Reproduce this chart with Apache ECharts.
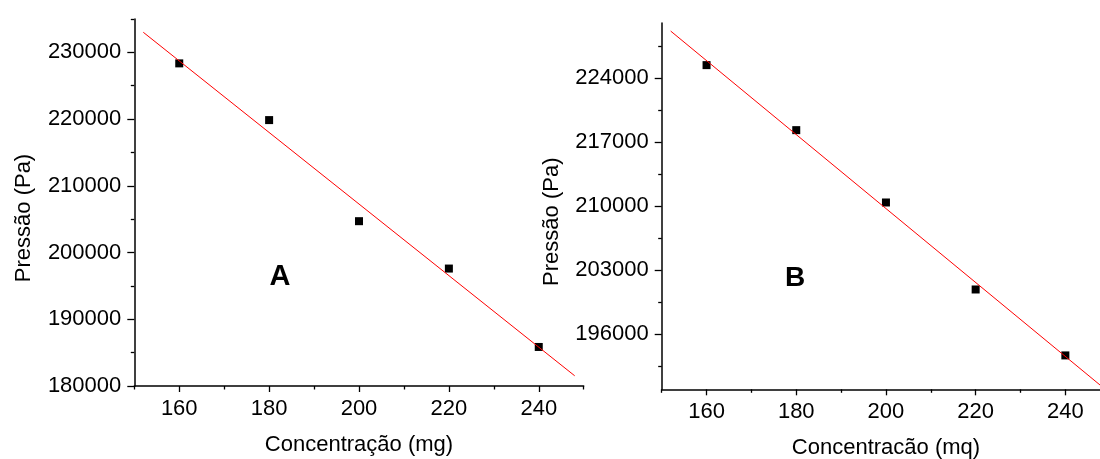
<!DOCTYPE html>
<html>
<head>
<meta charset="utf-8">
<script src="https://cdn.jsdelivr.net/npm/echarts@6/dist/echarts.min.js"></script>
<style>
html,body{margin:0;padding:0;background:#fff;}
#chart{width:1100px;height:459px;}
</style>
</head>
<body>
<div id="chart"></div>
<script>
// ---- data ----
const concentrations = [160, 180, 200, 220, 240];
const pressureA = [228350, 219850, 204700, 197600, 185850];
const pressureB = [225400, 218300, 210400, 200900, 193700];
const fitX = [152, 248];
const fitA = [233010, 181530];
const fitB = [229120, 190360];

// ---- tick labels ----
const xTicks = [160, 180, 200, 220, 240];
const xMinorTicks = [150, 170, 190, 210, 230, 250];
const yTicksA = [180000, 190000, 200000, 210000, 220000, 230000];
const yMinorTicksA = [185000, 195000, 205000, 215000, 225000, 235000];
const yTicksB = [196000, 203000, 210000, 217000, 224000];
const yMinorTicksB = [192500, 199500, 206500, 213500, 220500, 227500];

const xTitle = 'Concentração (mg)';
const xTitleB = 'Concentracão (mq)';
const yTitle = 'Pressão (Pa)';

const FONT = '"Liberation Sans", Arial, sans-serif';
const axisColor = '#000';
const plain = v => String(v);

function xAxes(grid, minorTicks, majorTicks, name) {
  return [
    {
      type: 'value', gridIndex: grid, position: 'bottom', min: 150, max: 250,
      name: name, nameLocation: 'middle', nameGap: 48,
      nameTextStyle: {fontFamily: FONT, fontSize: 22, color: '#000'},
      axisLine: {show: true, onZero: false, lineStyle: {color: axisColor, width: 1.5}},
      axisTick: {show: true, customValues: majorTicks, length: 6, lineStyle: {color: axisColor, width: 1.3}},
      axisLabel: {show: true, customValues: majorTicks, formatter: plain, margin: 12, fontFamily: FONT, fontSize: 22, color: '#000'},
      splitLine: {show: false}
    },
    {
      type: 'value', gridIndex: grid, position: 'bottom', min: 150, max: 250,
      axisLine: {show: false},
      axisTick: {show: true, customValues: minorTicks, length: 3.5, lineStyle: {color: axisColor, width: 1.3}},
      axisLabel: {show: false},
      splitLine: {show: false}
    }
  ];
}

function yAxes(grid, min, max, majorTicks, minorTicks) {
  return [
    {
      type: 'value', gridIndex: grid, position: 'left', min: min, max: max,
      axisLine: {show: true, onZero: false, lineStyle: {color: axisColor, width: 1.5}},
      axisTick: {show: true, customValues: majorTicks, length: 7, lineStyle: {color: axisColor, width: 1.3}},
      axisLabel: {show: true, customValues: majorTicks, formatter: plain, margin: 13, fontFamily: FONT, fontSize: 22, color: '#000'},
      splitLine: {show: false}
    },
    {
      type: 'value', gridIndex: grid, position: 'left', min: min, max: max,
      axisLine: {show: false},
      axisTick: {show: true, customValues: minorTicks, length: 3.5, lineStyle: {color: axisColor, width: 1.3}},
      axisLabel: {show: false},
      splitLine: {show: false}
    }
  ];
}

const chart = echarts.init(document.getElementById('chart'), null, {renderer: 'canvas'});

const option = {
  animation: false,
  backgroundColor: '#fff',
  grid: [
    {left: 134.3, top: 19, width: 449.4, height: 367, containLabel: false, outerBoundsMode: 'none'},
    {left: 661.7, top: 23, width: 448.5, height: 366.3, containLabel: false, outerBoundsMode: 'none'}
  ],
  xAxis: [].concat(
    xAxes(0, xMinorTicks, xTicks, xTitle),
    xAxes(1, xMinorTicks, xTicks, xTitleB)
  ),
  yAxis: [].concat(
    yAxes(0, 180000, 235000, yTicksA, yMinorTicksA),
    yAxes(1, 190000, 230000, yTicksB, yMinorTicksB)
  ),
  series: [
    {
      type: 'scatter', xAxisIndex: 0, yAxisIndex: 0,
      data: concentrations.map((c, i) => [c, pressureA[i]]),
      symbol: 'rect', symbolSize: 8, itemStyle: {color: '#000', opacity: 1}, z: 2
    },
    {
      type: 'line', xAxisIndex: 0, yAxisIndex: 0,
      data: fitX.map((x, i) => [x, fitA[i]]),
      showSymbol: false, symbol: 'none', lineStyle: {color: '#ff0000', width: 1}, z: 3
    },
    {
      type: 'scatter', xAxisIndex: 2, yAxisIndex: 2,
      data: concentrations.map((c, i) => [c, pressureB[i]]),
      symbol: 'rect', symbolSize: 8, itemStyle: {color: '#000', opacity: 1}, z: 2
    },
    {
      type: 'line', xAxisIndex: 2, yAxisIndex: 2,
      data: fitX.map((x, i) => [x, fitB[i]]),
      showSymbol: false, symbol: 'none', lineStyle: {color: '#ff0000', width: 1}, z: 3
    }
  ],
  graphic: [
    {type: 'text', x: 23.7, y: 218, rotation: Math.PI / 2,
     style: {text: yTitle, fontFamily: FONT, fontSize: 22, fill: '#000', align: 'center', verticalAlign: 'middle'}},
    {type: 'text', x: 552, y: 221.7, rotation: Math.PI / 2,
     style: {text: yTitle, fontFamily: FONT, fontSize: 22, fill: '#000', align: 'center', verticalAlign: 'middle'}},
    {type: 'text', x: 280, y: 277,
     style: {text: 'A', fontFamily: FONT, fontSize: 29, fontWeight: 'bold', fill: '#000', align: 'center', verticalAlign: 'middle'}},
    {type: 'text', x: 795, y: 278,
     style: {text: 'B', fontFamily: FONT, fontSize: 28, fontWeight: 'bold', fill: '#000', align: 'center', verticalAlign: 'middle'}}
  ]
};

chart.setOption(option);
</script>
</body>
</html>
